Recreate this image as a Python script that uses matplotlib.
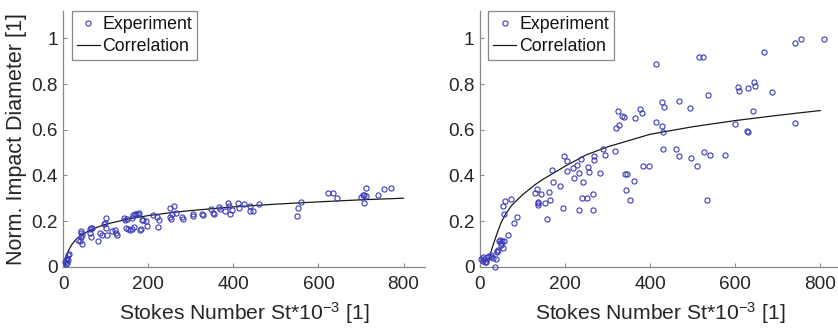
import matplotlib
matplotlib.use("Agg")
import matplotlib.pyplot as plt

plt.rcParams['font.family'] = ['Liberation Sans', 'DejaVu Sans']
plt.rcParams['mathtext.default'] = 'regular'

# ---------------- data: left panel ----------------
left_exp_x = [5, 6, 8, 8, 10, 11, 13, 7,
              35, 39, 41, 42, 43, 45, 42,
              63, 64, 66, 63, 67,
              81, 86, 92, 96, 100, 99, 102, 100,
              115, 125, 127, 122,
              143, 144, 147, 149, 153, 157, 161, 162, 165, 167, 169, 172, 175, 179,
              180, 182, 184, 188, 194, 196,
              212, 220, 223, 224,
              251, 252, 254, 256, 260, 265, 278, 281,
              304, 306, 325, 329,
              347, 353, 354, 367, 368, 380, 388, 389, 392, 396, 410, 414, 426, 438,
              439, 445, 460,
              549, 551, 558,
              623, 633, 643,
              700, 704, 707, 711, 708, 712, 740, 755, 770]
left_exp_y = [0.02, 0.03, 0.04, 0.015, 0.03, 0.05, 0.055, 0.01,
              0.116, 0.114, 0.157, 0.149, 0.138, 0.10, 0.131,
              0.163, 0.17, 0.13, 0.149, 0.169,
              0.114, 0.146, 0.137, 0.186, 0.215, 0.192, 0.137, 0.17,
              0.157, 0.146, 0.141, 0.162,
              0.215, 0.204, 0.17, 0.207, 0.167, 0.16, 0.215, 0.166, 0.226, 0.172,
              0.233, 0.233, 0.233, 0.237,
              0.16, 0.163, 0.204, 0.204, 0.20, 0.18,
              0.226, 0.218, 0.173, 0.204,
              0.255, 0.218, 0.207, 0.233, 0.266, 0.237, 0.218, 0.211,
              0.233, 0.221, 0.233, 0.226,
              0.252, 0.237, 0.233, 0.262, 0.252, 0.242, 0.277, 0.266, 0.233, 0.25,
              0.277, 0.256, 0.274, 0.245,
              0.266, 0.245, 0.274,
              0.221, 0.258, 0.285,
              0.323, 0.323, 0.30,
              0.306, 0.313, 0.313, 0.31, 0.279, 0.345, 0.316, 0.339, 0.346]
left_cor_x = [3.5, 5, 8, 12, 20, 30, 40, 60, 80, 100, 150, 200, 250, 300,
              400, 500, 600, 700, 800]
left_cor_y = [0.0, 0.02, 0.047, 0.07, 0.097, 0.12, 0.135, 0.157, 0.173, 0.186,
              0.208, 0.224, 0.236, 0.246, 0.262, 0.274, 0.284, 0.293, 0.30]

# ---------------- data: right panel ----------------
right_exp_x = [2, 6, 8, 12, 14, 9, 17, 22, 25, 27, 30, 36, 38, 39, 41, 42, 44, 47,
               49, 52, 50, 53, 56, 67, 55, 58, 56, 72, 80, 88,
               129, 135, 136, 137, 137, 144, 154, 158, 162, 165, 170, 171, 188, 194,
               198, 204, 205, 218, 220, 227, 232, 232, 238, 239, 242, 251, 253, 257,
               265, 265, 267, 268, 282, 289, 294,
               317, 320, 324, 326, 333, 338, 340, 345, 344, 353, 362, 365, 376, 380,
               383, 398, 413, 413, 427, 427, 430, 430, 433,
               460, 467, 469, 494, 496, 510, 515, 525, 527, 534, 536, 541, 576,
               599, 607, 609, 628, 629, 630, 642, 645, 647, 667, 686,
               740, 740, 755, 808]
right_exp_y = [0.032, 0.044, 0.025, 0.022, 0.02, 0.032, 0.044, 0.047, 0.051, 0.041,
               0.036, 0.0, 0.032, 0.064, 0.07, 0.073, 0.114, 0.116,
               0.102, 0.114, 0.095, 0.084, 0.114, 0.137, 0.265, 0.287, 0.233, 0.297,
               0.192, 0.218,
               0.323, 0.342, 0.284, 0.277, 0.269, 0.317, 0.281, 0.208, 0.328, 0.294,
               0.422, 0.371, 0.354, 0.255,
               0.483, 0.463, 0.418, 0.432, 0.39, 0.447, 0.409, 0.25, 0.472, 0.301,
               0.37, 0.301, 0.437, 0.413,
               0.32, 0.247, 0.486, 0.469, 0.41, 0.517, 0.488,
               0.507, 0.606, 0.684, 0.62, 0.661, 0.655, 0.405, 0.405, 0.338, 0.291,
               0.374, 0.652, 0.691, 0.674,
               0.441, 0.443, 0.888, 0.633, 0.723, 0.616, 0.59, 0.514, 0.701,
               0.514, 0.485, 0.726, 0.693, 0.475, 0.44, 0.92, 0.92, 0.504, 0.291,
               0.754, 0.491, 0.488,
               0.623, 0.786, 0.769, 0.594, 0.783, 0.59, 0.68, 0.808, 0.79, 0.94,
               0.764,
               0.978, 0.629, 0.999, 0.999]
right_cor_x = [20, 25, 30, 40, 50, 60, 75, 100, 130, 150, 200, 250, 300, 400,
               500, 600, 700, 800]
right_cor_y = [0.02, 0.06, 0.09, 0.145, 0.195, 0.23, 0.27, 0.315, 0.36, 0.385,
               0.44, 0.49, 0.525, 0.58, 0.613, 0.64, 0.663, 0.684]

x_ticks = [0, 200, 400, 600, 800]
y_ticks = [0, 0.2, 0.4, 0.6, 0.8, 1]
y_tick_labels = ['0', '0.2', '0.4', '0.6', '0.8', '1']

xlabel = r'Stokes Number St*10$^{-3}$ [1]'
ylabel = 'Norm. Impact Diameter [1]'
legend_labels = ['Experiment', 'Correlation']

# ---------------- figure ----------------
W, H = 838, 330
fig = plt.figure(figsize=(W / 100, H / 100), dpi=100)

ax_w = 361.5 / W
ax_b = (H - 266.7) / H
ax_h = (266.7 - 11) / H
axL = fig.add_axes([63.3 / W, ax_b, ax_w, ax_h])
axR = fig.add_axes([480.0 / W, ax_b, ax_w, ax_h])

marker_col = '#3a3aba'
text_col = '#262626'
spine_col = '#8a8a8a'

panels = [(axL, left_exp_x, left_exp_y, left_cor_x, left_cor_y),
          (axR, right_exp_x, right_exp_y, right_cor_x, right_cor_y)]

for ax, ex, ey, cx, cy in panels:
    ax.plot(ex, ey, 'o', mfc='none', mec=marker_col, mew=0.8, ms=3.7,
            label=legend_labels[0], clip_on=False, zorder=3)
    ax.plot(cx, cy, '-', color='#1a1a1a', lw=0.9, label=legend_labels[1], zorder=2)
    ax.set_xlim(0, 850)
    ax.set_ylim(0, 1.12)
    ax.set_xticks(x_ticks)
    ax.set_yticks(y_ticks)
    ax.set_yticklabels(y_tick_labels)
    for s in ['top', 'right']:
        ax.spines[s].set_visible(False)
    for s in ['left', 'bottom']:
        ax.spines[s].set_color(spine_col)
        ax.spines[s].set_linewidth(0.9)
    ax.tick_params(direction='in', length=3, width=0.8, color=spine_col,
                   labelcolor=text_col, labelsize=13.7)
    ax.tick_params(axis='x', pad=7)
    ax.tick_params(axis='y', pad=4)
    ax.set_xlabel(xlabel, fontsize=15.2, color=text_col, labelpad=5)
    ax.patch.set_alpha(0)
    leg = ax.legend(loc='upper left', bbox_to_anchor=(8.4 / 361.5, 1.0),
                    borderaxespad=0, fontsize=12.8, frameon=True, fancybox=False,
                    framealpha=1, edgecolor='#8a8a8a', handlelength=1.3,
                    handletextpad=0.15, labelspacing=0.3, borderpad=0.28)
    leg.get_frame().set_linewidth(0.9)
    for t in leg.get_texts():
        t.set_color('#111111')

axL.set_ylabel(ylabel, fontsize=15.5, color=text_col, labelpad=3)

fig.savefig('out.png', dpi=100)
